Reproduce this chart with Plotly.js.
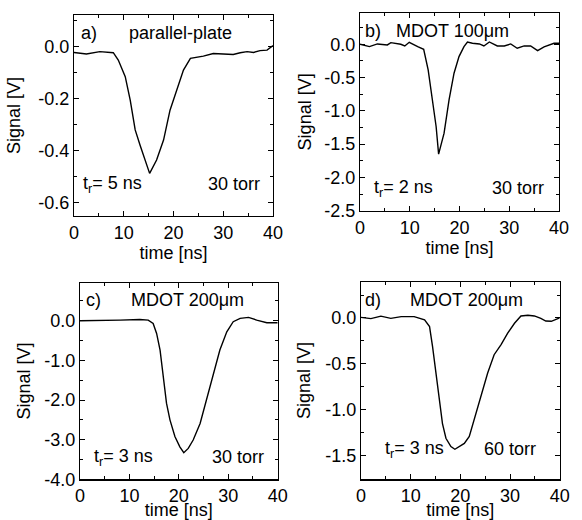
<!DOCTYPE html>
<html>
<head>
<meta charset="utf-8">
<script src="https://cdn.plot.ly/plotly-3.0.1.min.js"></script>
<style>html,body{margin:0;padding:0;background:#fff;}#chart{width:582px;height:520px;}</style>
</head>
<body>
<div id="chart"></div>
<script>
// ---- data ----
const timeA = [0,2.5,5.2,7.9,8.9,10.3,11.3,12.3,13.3,14.3,15.2,16.6,18.0,19.3,20.7,22.0,23.4,24.7,26.0,28.0,30.7,32.0,33.4,34.8,36.1,37.4,38.8,40];
const signalA = [-0.022,-0.028,-0.019,-0.023,-0.051,-0.115,-0.205,-0.32,-0.38,-0.435,-0.487,-0.436,-0.359,-0.244,-0.167,-0.09,-0.045,-0.041,-0.036,-0.026,-0.028,-0.03,-0.023,-0.019,-0.022,-0.015,-0.013,0.004];

const timeB = [0,1.9,3.5,5.5,6.2,8.2,9.0,9.9,11.6,12.8,13.7,14.6,15.3,15.8,16.9,17.9,18.9,19.9,20.9,21.6,22.6,24.0,24.9,26.0,27.6,29.0,30.3,31.6,33.0,34.3,35.7,37.0,39.0,40.0];
const signalB = [0,-0.035,0.005,-0.01,0.025,0.0,-0.025,0.03,-0.035,-0.075,-0.385,-0.835,-1.235,-1.65,-1.335,-0.835,-0.435,-0.185,-0.035,0.035,0.015,0.005,-0.025,0.035,-0.025,-0.025,0.005,-0.06,-0.025,-0.025,-0.095,-0.04,0.015,0.015];

const timeC = [0,4,8.1,12.1,13.8,14.8,15.5,16.2,16.9,17.5,18.2,19.2,20.2,21.0,21.9,22.9,24.3,25.6,27.0,28.3,29.7,31.0,32.4,34.1,35.75,37.8,40];
const signalC = [0,0.017,0.017,0.03,0.017,-0.067,-0.32,-0.74,-1.41,-2.08,-2.5,-2.92,-3.18,-3.33,-3.22,-3.01,-2.59,-2.0,-1.33,-0.74,-0.28,-0.025,0.06,0.084,0.017,-0.05,-0.05];

const timeD = [0,2.0,4.0,6.0,8.1,10.7,12.8,13.8,14.4,15.1,15.8,16.4,17.1,18.1,18.9,19.8,20.8,21.8,22.8,24.2,25.5,26.8,28.2,29.5,30.9,32.2,33.6,34.9,36.2,37.2,38.3,40];
const signalD = [0.007,-0.007,0.02,-0.004,0.015,0.015,-0.02,-0.094,-0.31,-0.6,-0.89,-1.15,-1.31,-1.40,-1.43,-1.40,-1.366,-1.29,-1.11,-0.857,-0.60,-0.40,-0.29,-0.167,-0.058,0.022,0.029,0.022,-0.004,-0.033,-0.036,0.0];

const xTickVals = [0,10,20,30,40];
const xTickText = ["0","10","20","30","40"];
const yTickValsA = [0,-0.2,-0.4,-0.6];
const yTickTextA = ["0.0","-0.2","-0.4","-0.6"];
const yTickValsB = [0,-0.5,-1,-1.5,-2,-2.5];
const yTickTextB = ["0.0","-0.5","-1.0","-1.5","-2.0","-2.5"];
const yTickValsC = [0,-1,-2,-3,-4];
const yTickTextC = ["0.0","-1.0","-2.0","-3.0","-4.0"];
const yTickValsD = [0,-0.5,-1,-1.5];
const yTickTextD = ["0.0","-0.5","-1.0","-1.5"];

const panelLabels = ["a)","b)","c)","d)"];
const panelTitles = ["parallel-plate","MDOT 100\u03bcm","MDOT 200\u03bcm","MDOT 200\u03bcm"];
const riseTimes = ["t<sub>r</sub>= 5 ns","t<sub>r</sub>= 2 ns","t<sub>r</sub>= 3 ns","t<sub>r</sub>= 3 ns"];
const pressures = ["30 torr","30 torr","30 torr","60 torr"];

// ---- layout helpers ----
const W = 582, H = 520;
const FONT = "Liberation Sans, Arial, Helvetica, sans-serif";
const FS = 18;
const px = v => v / W;
const py = v => 1 - v / H;

const lineStyle = {color: "#000", width: 1.4};
const traces = [
  {x: timeA, y: signalA, xaxis: "x", yaxis: "y", mode: "lines", line: lineStyle, showlegend: false},
  {x: timeB, y: signalB, xaxis: "x2", yaxis: "y2", mode: "lines", line: lineStyle, showlegend: false},
  {x: timeC, y: signalC, xaxis: "x3", yaxis: "y3", mode: "lines", line: lineStyle, showlegend: false},
  {x: timeD, y: signalD, xaxis: "x4", yaxis: "y4", mode: "lines", line: lineStyle, showlegend: false}
];

function xAxis(domain, anchor, standoff) {
  return {
    domain: domain, anchor: anchor, range: [0, 40],
    tickmode: "array", tickvals: xTickVals, ticktext: xTickText,
    ticks: "inside", ticklen: 5, tickwidth: 1, tickcolor: "#000",
    minor: {ticks: "inside", ticklen: 3, tickmode: "linear", tick0: 0, dtick: 5, tickcolor: "#000"},
    showline: true, linecolor: "#000", linewidth: 1.2, mirror: "ticks",
    showgrid: false, zeroline: false,
    tickfont: {family: FONT, size: FS, color: "#000"},
    title: {text: "time [ns]", font: {family: FONT, size: FS, color: "#000"}, standoff: standoff}
  };
}
function yAxis(domain, anchor, range, vals, text, minorStep, standoff) {
  return {
    domain: domain, anchor: anchor, range: range,
    tickmode: "array", tickvals: vals, ticktext: text,
    ticks: "inside", ticklen: 5, tickwidth: 1, tickcolor: "#000",
    minor: {ticks: "inside", ticklen: 3, tickmode: "linear", tick0: 0, dtick: minorStep, tickcolor: "#000"},
    showline: true, linecolor: "#000", linewidth: 1.2, mirror: "ticks",
    showgrid: false, zeroline: false,
    tickfont: {family: FONT, size: FS, color: "#000"},
    title: {text: "Signal [V]", font: {family: FONT, size: FS, color: "#000"}, standoff: standoff}
  };
}

const annFont = {family: FONT, size: FS, color: "#000"};
function ann(text, x, y, xanchor) {
  return {text: text, x: px(x), y: py(y), xref: "paper", yref: "paper",
          xanchor: xanchor || "center", yanchor: "middle", showarrow: false, font: annFont};
}

const layout = {
  width: W, height: H,
  margin: {l: 0, r: 0, t: 0, b: 0},
  paper_bgcolor: "#fff", plot_bgcolor: "#fff",
  font: {family: FONT, color: "#000"},
  showlegend: false,
  xaxis:  xAxis([px(74), px(273)], "y", 0),
  yaxis:  yAxis([py(216), py(15)], "x", [-0.651, 0.122], yTickValsA, yTickTextA, 0.1, 12),
  xaxis2: xAxis([px(360), px(559)], "y2", 0),
  yaxis2: yAxis([py(210.7), py(13)], "x2", [-2.5, 0.47], yTickValsB, yTickTextB, 0.25, 7),
  xaxis3: xAxis([px(80), px(277.7)], "y3", 6),
  yaxis3: yAxis([py(479.3), py(282.7)], "x3", [-4.0, 0.96], yTickValsC, yTickTextC, 0.5, 8),
  xaxis4: xAxis([px(361), px(559.7)], "y4", 6),
  yaxis4: yAxis([py(479.3), py(281.7)], "x4", [-1.757, 0.395], yTickValsD, yTickTextD, 0.25, 9),
  annotations: [
    ann(panelLabels[0], 79, 33, "left"), ann(panelTitles[0], 180, 33),
    ann(riseTimes[0], 81, 184, "left"), ann(pressures[0], 234, 184),
    ann(panelLabels[1], 363, 31, "left"), ann(panelTitles[1], 452, 31),
    ann(riseTimes[1], 372, 188, "left"), ann(pressures[1], 518, 188),
    ann(panelLabels[2], 84, 300, "left"), ann(panelTitles[2], 187, 300),
    ann(riseTimes[2], 92, 457, "left"), ann(pressures[2], 238, 457),
    ann(panelLabels[3], 363, 300, "left"), ann(panelTitles[3], 466, 300),
    ann(riseTimes[3], 383, 449, "left"), ann(pressures[3], 510, 449)
  ]
};

Plotly.newPlot("chart", traces, layout, {staticPlot: true, displayModeBar: false});
</script>
</body>
</html>
